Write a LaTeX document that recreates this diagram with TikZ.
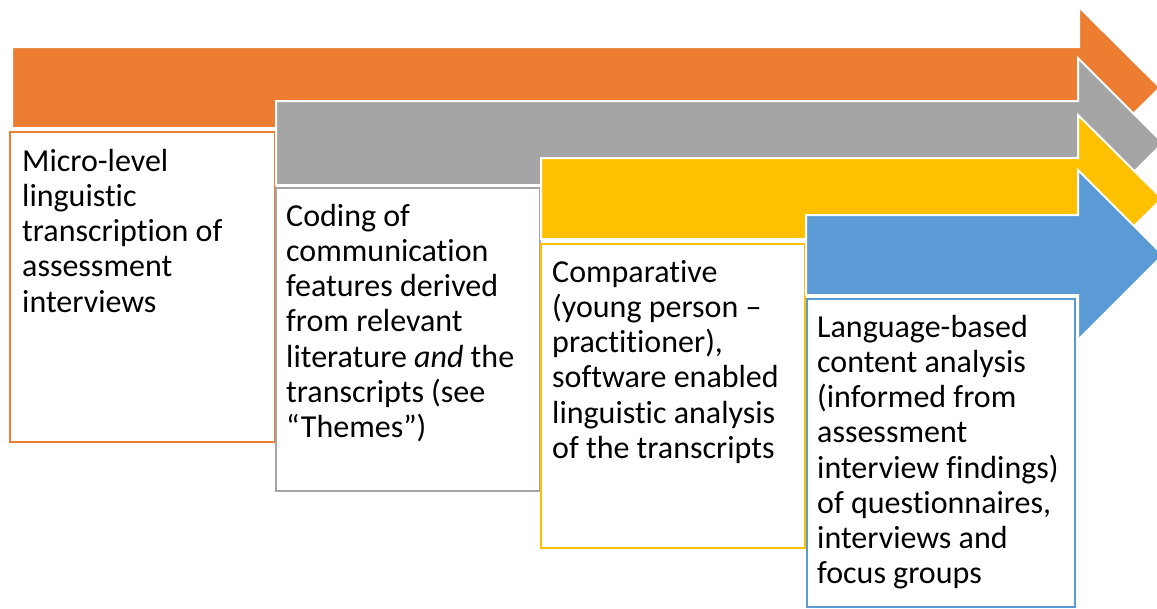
\documentclass[tikz,border=0pt]{standalone}
\usepackage{fontspec}
\setmainfont{Carlito}[Ligatures=NoCommon]
\definecolor{corange}{HTML}{ED7D31}
\definecolor{cgray}{HTML}{A5A5A5}
\definecolor{cyellow}{HTML}{FFC000}
\definecolor{cblue}{HTML}{5B9BD5}
\tikzset{
  arrowshape/.style={fill=#1, draw=white, line width=2pt, line join=miter},
  boxshape/.style={draw=#1, line width=2pt, fill=white},
  lbl/.style={anchor=north west, inner sep=0pt, align=left, text=black,
              font=\fontsize{32}{35.2}\selectfont}
}
\begin{document}
\begin{tikzpicture}[x=1pt,y=-1pt]
\useasboundingbox (0,0) rectangle (1157,608);
\clip (0,0) rectangle (1157,608);
% orange
\draw[arrowshape=corange] (12,47) -- (1079,47) -- (1079,7) -- (1160,87.5) -- (1079,168) -- (1079,128) -- (12,128) -- cycle;
\draw[boxshape=corange] (10,132) rectangle (275,442);
\node[lbl] (t1) at (22,146.4) {\strut Micro-level\\linguistic\\transcription of\\assessment\\interviews};
% gray
\draw[arrowshape=cgray] (276,101) -- (1078,101) -- (1078,58) -- (1163,143) -- (1078,228) -- (1078,185) -- (276,185) -- cycle;
\draw[boxshape=cgray] (276,188) rectangle (540,491);
\node[lbl] (t2) at (286,201.4) {\strut Coding of\\communication\\features derived\\from relevant\\literature \textit{and} the\\transcripts (see\\“Themes”)};
% yellow
\draw[arrowshape=cyellow] (541,158) -- (1078,158) -- (1078,115) -- (1162,198.5) -- (1078,282) -- (1078,239) -- (541,239) -- cycle;
\draw[boxshape=cyellow] (541,244) rectangle (805,548);
\node[lbl] (t3) at (552,257.4) {\strut Comparative\\(young person –\\practitioner),\\software enabled\\linguistic analysis\\of the transcripts};
% blue
\draw[arrowshape=cblue] (806,215) -- (1078,215) -- (1078,170) -- (1163,255) -- (1078,340) -- (1078,295) -- (806,295) -- cycle;
\draw[boxshape=cblue] (807,299) rectangle (1075,607);
\node[lbl] (t4) at (817,312.4) {\strut Language-based\\content analysis\\(informed from\\assessment\\interview findings)\\of questionnaires,\\interviews and\\focus groups};
\end{tikzpicture}
\end{document}
